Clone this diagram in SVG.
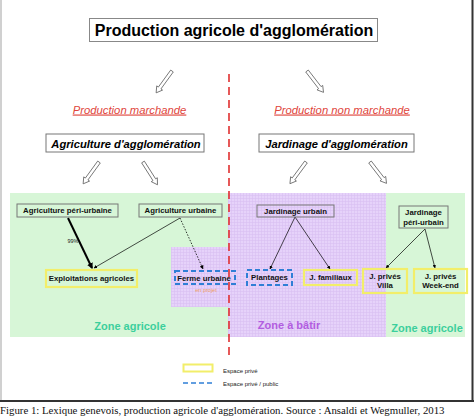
<svg xmlns="http://www.w3.org/2000/svg" width="474" height="417" viewBox="0 0 474 417">
<defs>
<pattern id="grid" width="3" height="3" patternUnits="userSpaceOnUse">
<rect width="3" height="3" fill="#e6d2fa"/>
<path d="M0,0.5H3M0.5,0V3" stroke="#d8c0f2" stroke-width="0.6"/>
</pattern>
<path id="harrow" d="M-1.6,0 L1.6,0 L1.6,21 L3.6,21 L0,27 L-3.6,21 L-1.6,21 Z"/>
<marker id="ah" viewBox="0 0 10 10" refX="9" refY="5" markerWidth="5" markerHeight="5" orient="auto">
<path d="M0,0 L10,5 L0,10 Z" fill="#000"/>
</marker>
<marker id="ahb" viewBox="0 0 10 10" refX="8" refY="5" markerWidth="3" markerHeight="3" orient="auto">
<path d="M0,0 L10,5 L0,10 Z" fill="#000"/>
</marker>
</defs>
<style>
.hollow{fill:#fff;stroke:#666;stroke-width:0.8}
.box{fill:none;stroke:#777;stroke-width:1}
.yel{fill:none;stroke:#f2ee6a;stroke-width:2.2}
.blu{fill:none;stroke:#2f7fd6;stroke-width:2;stroke-dasharray:5,3}
.nt{font-family:"Liberation Sans",Arial,sans-serif;font-weight:bold;font-size:7.8px;fill:#111;text-anchor:middle}
.red{font-family:"Liberation Sans",Arial,sans-serif;font-style:italic;font-size:11.3px;fill:#e0453c;text-anchor:middle;text-decoration:underline}
.sub{font-family:"Liberation Sans",Arial,sans-serif;font-style:italic;font-weight:bold;font-size:11.2px;fill:#000;text-anchor:middle}
.zone{font-family:"Liberation Sans",Arial,sans-serif;font-weight:bold;font-size:11px;text-anchor:middle}
.leg{font-family:"Liberation Sans",Arial,sans-serif;font-size:6px;fill:#222}
.ln{stroke:#000;fill:none}
</style>
<rect width="474" height="417" fill="#fff"/>
<!-- frame -->
<rect x="0" y="0" width="2" height="401" fill="#d0d0d0"/>
<rect x="471.5" y="0" width="2" height="402" fill="#333"/>
<rect x="0" y="400" width="474" height="2" fill="#333"/>
<!-- zones -->
<rect x="10" y="193" width="218" height="144" fill="#d7f6d7"/>
<rect x="171" y="247" width="57" height="60" fill="url(#grid)"/>
<rect x="228" y="193" width="158" height="144" fill="url(#grid)"/>
<rect x="386" y="193" width="79" height="144" fill="#d7f6d7"/>
<!-- divider -->
<line x1="229" y1="74" x2="229" y2="358" stroke="#e03030" stroke-width="1.6" stroke-dasharray="8,5"/>
<!-- title -->
<g id="title">
<rect x="89.5" y="18.5" width="288" height="23" fill="#fff" stroke="#888"/>
<text x="234" y="35.5" font-family="Liberation Sans,Arial,sans-serif" font-weight="bold" font-size="16" text-anchor="middle" fill="#000">Production agricole d'agglomération</text>
</g>
<g id="hollow-arrows" class="hollow">
<use href="#harrow" transform="translate(172,71) rotate(36)"/>
<use href="#harrow" transform="translate(307,71) rotate(-37.7)"/>
<use href="#harrow" transform="translate(99,162) rotate(36)"/>
<use href="#harrow" transform="translate(143,162) rotate(-32.5)"/>
<use href="#harrow" transform="translate(306,162) rotate(36.5)"/>
<use href="#harrow" transform="translate(370,162) rotate(-37.7)"/>
</g>
<g id="prod-marchande"><text class="red" x="129.5" y="113.5">Production marchande</text></g>
<g id="prod-non-marchande"><text class="red" x="342" y="113.5">Production non marchande</text></g>
<g id="agri-agglo">
<rect class="box" x="46" y="134" width="158" height="18" fill="#fff"/>
<text class="sub" x="126" y="147.5">Agriculture d'agglomération</text>
</g>
<g id="jard-agglo">
<rect class="box" x="259" y="134" width="155" height="18" fill="#fff"/>
<text class="sub" x="336.5" y="147.5">Jardinage d'agglomération</text>
</g>
<!-- connectors -->
<g id="connectors">
<line class="ln" x1="68" y1="218" x2="92" y2="268" stroke-width="2" marker-end="url(#ahb)"/>
<line class="ln" x1="180" y1="218" x2="94" y2="268" stroke-width="0.7" marker-end="url(#ah)"/>
<line class="ln" x1="180" y1="218" x2="203" y2="269" stroke-width="0.8" stroke-dasharray="1.5,1.5" marker-end="url(#ah)"/>
<line class="ln" x1="295" y1="217" x2="270" y2="269" stroke-width="0.7" marker-end="url(#ah)"/>
<line class="ln" x1="295" y1="217" x2="330" y2="269" stroke-width="0.7" marker-end="url(#ah)"/>
<line class="ln" x1="425" y1="229" x2="386" y2="268" stroke-width="0.7" marker-end="url(#ah)"/>
<line class="ln" x1="425" y1="229" x2="435" y2="268" stroke-width="0.7" marker-end="url(#ah)"/>
<text x="73" y="243" font-family="Liberation Sans,Arial,sans-serif" font-size="5.5" text-anchor="middle" fill="#222">99%</text>
</g>
<!-- nodes -->
<g id="agri-peri">
<rect class="box" x="17" y="204" width="101" height="13"/>
<text class="nt" x="67.5" y="213.3">Agriculture péri-urbaine</text>
</g>
<g id="agri-urbaine">
<rect class="box" x="139" y="204" width="83" height="13"/>
<text class="nt" x="180.5" y="213.3">Agriculture urbaine</text>
</g>
<g id="exploitations">
<rect class="yel" x="46" y="270" width="91" height="17"/>
<text class="nt" x="91.5" y="281.3">Exploitations agricoles</text>
</g>
<g id="ferme-urbaine">
<rect class="blu" x="175" y="271" width="60" height="13"/>
<text class="nt" x="204" y="280.5">Ferme urbaine</text>
<text x="206" y="292" font-family="Liberation Sans,Arial,sans-serif" font-size="5.5" text-anchor="middle" fill="#f0a060">en projet</text>
</g>
<g id="jard-urbain">
<rect class="box" x="257" y="205" width="77" height="12"/>
<text class="nt" x="295.5" y="213.8">Jardinage urbain</text>
</g>
<g id="jard-peri">
<rect class="box" x="399" y="206" width="49" height="22"/>
<text class="nt" x="423.5" y="215.3">Jardinage</text>
<text class="nt" x="423.5" y="224.5">péri-urbain</text>
</g>
<g id="plantages">
<rect class="blu" x="247" y="270" width="45" height="15"/>
<text class="nt" x="269.5" y="280.3">Plantages</text>
</g>
<g id="j-familiaux">
<rect class="yel" x="304" y="270" width="53" height="15"/>
<text class="nt" x="330.5" y="280.3">J. familiaux</text>
</g>
<g id="j-villa">
<rect class="yel" x="363" y="269" width="44" height="24"/>
<text class="nt" x="385" y="279">J. privés</text>
<text class="nt" x="385" y="288.3">Villa</text>
</g>
<g id="j-weekend">
<rect class="yel" x="414" y="269" width="53" height="24"/>
<text class="nt" x="440.5" y="279">J. privés</text>
<text class="nt" x="440.5" y="288.3">Week-end</text>
</g>
<!-- zone labels -->
<text class="zone" x="130" y="330" fill="#3ccf9c">Zone agricole</text>
<text class="zone" x="289" y="329" fill="#b25de0">Zone à bâtir</text>
<text class="zone" x="427" y="332" fill="#3ccf9c">Zone agricole</text>
<!-- legend -->
<g id="legend">
<rect x="183.5" y="364.5" width="29" height="7" fill="none" stroke="#f2ee6a" stroke-width="2"/>
<text class="leg" x="223" y="372.5">Espace privé</text>
<line x1="183" y1="383" x2="213" y2="383" stroke="#2f7fd6" stroke-width="1.5" stroke-dasharray="5,3"/>
<text class="leg" x="223" y="385.5">Espace privé / public</text>
</g>
<text x="0" y="414" font-family="Liberation Serif,Times New Roman,serif" font-size="10.8" fill="#111">Figure 1: Lexique genevois, production agricole d'agglomération. Source : Ansaldi et Wegmuller, 2013</text>
</svg>
